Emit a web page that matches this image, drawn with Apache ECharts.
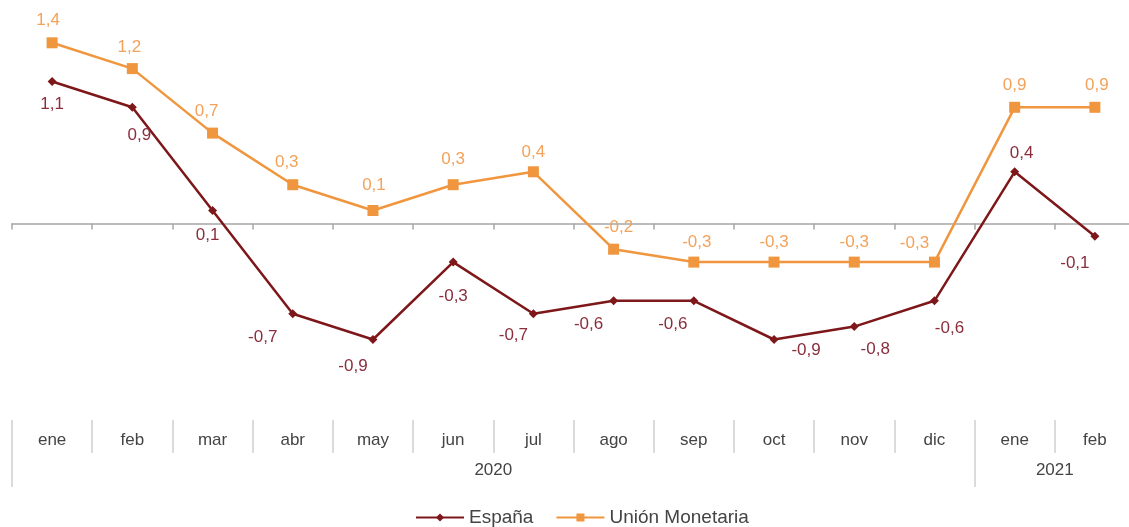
<!DOCTYPE html>
<html>
<head>
<meta charset="utf-8">
<script src="https://cdn.jsdelivr.net/npm/echarts@6/dist/echarts.min.js"></script>
<style>
  html, body { margin: 0; padding: 0; background: #fff; }
  #et1 { width: 1129px; height: 527px; }
</style>
</head>
<body>
<div id="et1"></div>
<script>
var months = ['ene', 'feb', 'mar', 'abr', 'may', 'jun', 'jul', 'ago', 'sep', 'oct', 'nov', 'dic', 'ene', 'feb'];
// year label sits on the category boundary in the middle of its group
var yearBoundaries = ['', '', '', '', '', '', '2020', '', '', '', '', '', '', '2021', ''];
var espana = [1.1, 0.9, 0.1, -0.7, -0.9, -0.3, -0.7, -0.6, -0.6, -0.9, -0.8, -0.6, 0.4, -0.1];
var union = [1.4, 1.2, 0.7, 0.3, 0.1, 0.3, 0.4, -0.2, -0.3, -0.3, -0.3, -0.3, 0.9, 0.9];

// label offsets (layout only)
var espOffsets = [[0, 23], [7, 28], [-5, 25], [-30, 24], [-20, 27], [0, 34], [-20, 22], [-25, 24], [-21, 24], [32, 11], [21, 23], [15, 28], [7, -18], [-20, 27]];
var uniOffsets = [[-4, -22], [-3, -21], [-6, -22], [-6, -22], [1, -25], [0, -25], [0, -19], [5, -22], [3, -20], [0, -20], [0, -20], [-20, -19], [0, -22], [2, -22]];

function fmt(v) { return v.toFixed(1).replace('.', ','); }

~function () {
    var myChart = echarts.init(document.getElementById('et1'));
    var font = 'Liberation Sans, Arial, sans-serif';

    var espData = espana.map(function (v, i) {
        return {value: v, label: {offset: espOffsets[i]}};
    });
    var uniData = union.map(function (v, i) {
        return {value: v, label: {offset: uniOffsets[i]}};
    });

    var option = {
        animation: false,
        textStyle: {fontFamily: font},
        grid: {left: 12, top: 17, right: -6, height: 387, outerBoundsMode: 'none', containLabel: false},
        legend: {
            data: ['España', 'Unión Monetaria'],
            top: 503,
            left: 410,
            itemWidth: 48,
            itemHeight: 10,
            itemGap: 22,
            textStyle: {fontSize: 19, color: '#444', fontFamily: font}
        },
        xAxis: [
            {
                type: 'category',
                data: months,
                boundaryGap: true,
                axisLine: {onZero: true, lineStyle: {color: '#a6a6a6', width: 1.5}},
                axisTick: {show: true, length: 6, lineStyle: {color: '#a6a6a6', width: 1.5}},
                axisLabel: {show: false}
            },
            {
                type: 'category',
                data: months,
                position: 'bottom',
                offset: 16,
                boundaryGap: true,
                axisLine: {show: false, onZero: false},
                axisTick: {show: true, length: 33, lineStyle: {color: '#d0d0d0', width: 1.5}},
                axisLabel: {interval: 0, margin: 12, fontSize: 17, color: '#444', fontFamily: font}
            },
            {
                type: 'category',
                data: yearBoundaries,
                position: 'bottom',
                offset: 16,
                boundaryGap: false,
                axisLine: {show: false, onZero: false},
                axisTick: {
                    show: true,
                    length: 67,
                    interval: function (index) { return index === 0 || index === 12; },
                    lineStyle: {color: '#d0d0d0', width: 1.5}
                },
                axisLabel: {interval: 0, margin: 42, fontSize: 17, color: '#444', fontFamily: font}
            }
        ],
        yAxis: [
            {
                type: 'value',
                min: -1.4,
                max: 1.6,
                show: false,
                splitLine: {show: false}
            }
        ],
        series: [
            {
                name: 'España',
                type: 'line',
                data: espData,
                symbol: 'diamond',
                symbolSize: 9,
                color: '#7e1719',
                lineStyle: {width: 2.5, color: '#7e1719'},
                itemStyle: {color: '#7e1719'},
                label: {
                    show: true,
                    position: 'inside',
                    fontSize: 17,
                    color: '#8a2d3c',
                    fontFamily: font,
                    formatter: function (p) { return fmt(p.value); }
                },
                z: 3
            },
            {
                name: 'Unión Monetaria',
                type: 'line',
                data: uniData,
                symbol: 'rect',
                symbolSize: 11,
                color: '#f0963e',
                lineStyle: {width: 2.5, color: '#f0963e'},
                itemStyle: {color: '#f0963e'},
                label: {
                    show: true,
                    position: 'inside',
                    fontSize: 17,
                    color: '#f2a25a',
                    fontFamily: font,
                    formatter: function (p) { return fmt(p.value); }
                },
                z: 2
            }
        ]
    };
    myChart.setOption(option);
}();
</script>
</body>
</html>
